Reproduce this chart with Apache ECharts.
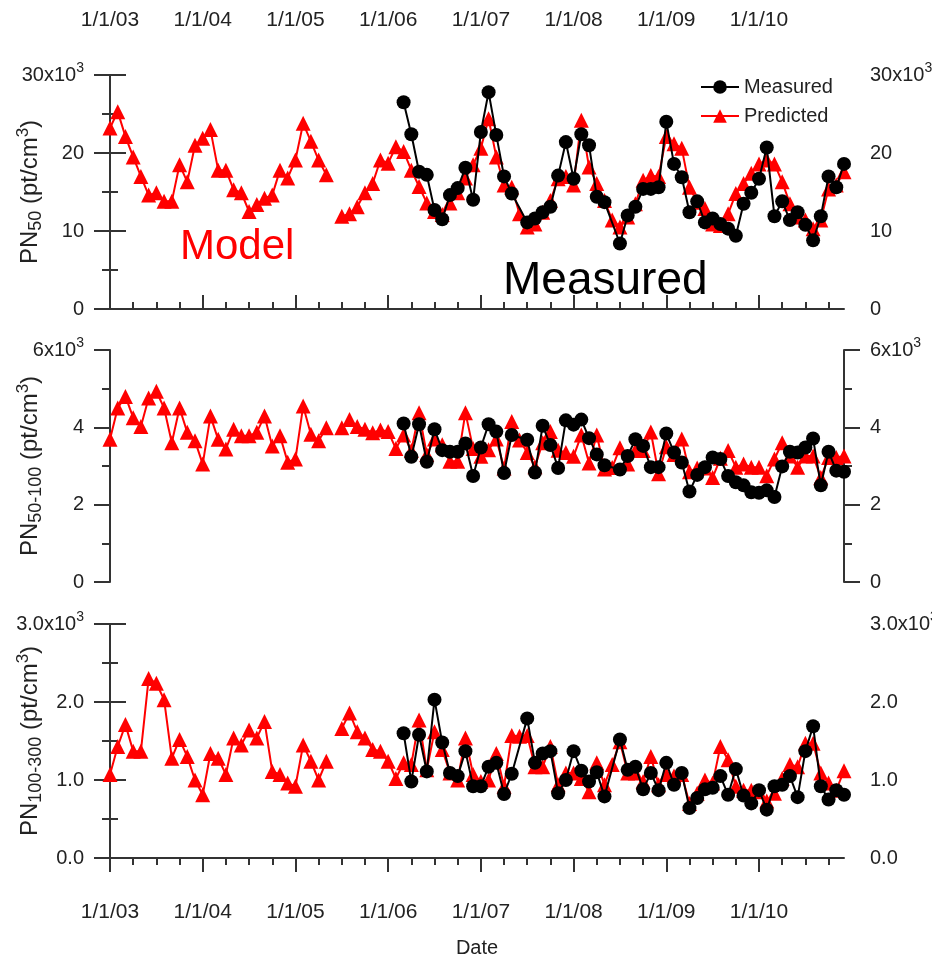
<!DOCTYPE html>
<html>
<head>
<meta charset="utf-8">
<script src="https://cdn.jsdelivr.net/npm/echarts@6/dist/echarts.min.js"></script>
<style>html,body{margin:0;padding:0;background:#fff}#chart{width:932px;height:960px}</style>
</head>
<body>
<div id="chart"></div>
<script>
// Month index 0 = 1 Jan 2003; one point per month.
const predictedStartMonth = 0;   // Jan 2003
const measuredStartMonth = 38;   // Mar 2006
const xMaxMonth = 95;            // Dec 2010
const xTickLabels = ['1/1/03', '1/1/04', '1/1/05', '1/1/06', '1/1/07', '1/1/08', '1/1/09', '1/1/10'];

// PN50 (pt/cm3)
const predictedPN50 = [
  23200, 25300, 22100, 19500, 17000, 14600, 14900, 13800, 13800, 18500, 16300, 21000, 21900, 23000, 17800,
  17800, 15300, 14900, 12500, 13400, 14200, 14600, 17800, 16800, 19100, 23800, 21500, 19100, 17200, null,
  11900, 12200, 13100, 14900, 16100, 19100, 18700, 20800, 20200, 17800,
  15700, 13600, 12500, 12100, 13600, 14900, 16800, 18500, 20600, 24400,
  19500, 15900, 15600, 12200, 10500, 10900, 12400, 13900, 16700, 17000,
  15900, 24200, 18200, 16100, 13900, 11400, 10500, 11800, 13500, 16500,
  17100, 17000, 22100, 21200, 20600, 15600, 13700, 12900, 10900, 10700,
  12200, 14800, 16100, 17400, 18600, 19100, 18600, 16300, 13500, 11800,
  11400, 10300, 11400, 15400, 15900, 17600
];
const measuredPN50 = [
  26500, 22400, 17600, 17200, 12700, 11500, 14600, 15500, 18100, 14000, 22700, 27800, 22300, 17000, 14800, null,
  11100, 11600, 12400, 13100, 17100, 21400, 16700, 22400, 21000, 14400, 13700, null,
  8400, 12000, 13100, 15400, 15400, 15600, 24000, 18600, 16900, 12400, 13800, 11100, 11600, 10900, 10300,
  9400, 13500, 14900, 16700, 20700, 11900, 13800, 11400, 12400, 10800, 8800, 11900, 17000, 15600, 18600
];

// PN50-100 (pt/cm3)
const predictedPN50_100 = [
  3690, 4500, 4800, 4250, 4020, 4760, 4930, 4500, 3600, 4500, 3870, 3650, 3050, 4290, 3690,
  3440, 3950, 3780, 3780, 3870, 4290, 3520, 3780, 3100, 3180, 4550, 3820, 3650, 3990, null,
  3990, 4200, 4020, 3950, 3860, 3930, 3890, 3450, 3800, 3400,
  4380, 3300, 3700, 3550, 3120, 3120, 4380, 3450, 3250, 3420,
  3700, 2950, 4150, 3670, 3350, 2980, 3600, 3890, 3410, 3350,
  3250, 3800, 3080, 3800, 2920, 2960, 3470, 3050, 3400, 3400,
  3880, 2800, 3500, 3300, 3700, 2850, 2950, 2950, 2700, 3200,
  3400, 2970, 3050, 2970, 2970, 2750, 3180, 3600, 3260, 2970,
  3260, 3260, 2700, 3220, 3220, 3260
];
const measuredPN50_100 = [
  4100, 3240, 4080, 3110, 3950, 3410, 3370, 3370, 3580, 2740, 3480, 4080, 3890, 2820, 3800, null,
  3680, 2830, 4040, 3540, 2950, 4180, 4070, 4200, 3720, 3300, 3020, null,
  2910, 3260, 3690, 3520, 2970, 2970, 3840, 3350, 3090, 2340, 2770, 2970, 3220, 3180, 2740,
  2580, 2500, 2320, 2310, 2370, 2200, 2990, 3370, 3350, 3480, 3710, 2500, 3370, 2880, 2850
];

// PN100-300 (pt/cm3)
const predictedPN100_300 = [
  1070, 1430, 1710, 1370, 1370, 2300, 2240, 2030, 1280, 1520, 1300, 1000, 810, 1340, 1280,
  1070, 1540, 1450, 1640, 1540, 1750, 1110, 1070, 960, 920, 1450, 1240, 1000, 1240, null,
  1660, 1860, 1620, 1540, 1390, 1370, 1240, 1020, 1220, 1200,
  1770, 1130, 1620, 1390, 1090, 1000, 1540, 1070, 980, 1000,
  1340, 920, 1570, 1560, 1570, 1170, 1170, 1430, 940, 1090,
  1090, 1020, 850, 1220, 940, 1200, 1490, 1090, 1090, 980,
  1300, 940, 1070, 1050, 1070, 700, 830, 1000, 960, 1430,
  1260, 920, 870, 870, 850, 730, 830, 1020, 1200, 1170,
  1470, 1470, 1090, 960, 870, 1120
];
const measuredPN100_300 = [
  1600, 980, 1580, 1110, 2030, 1480, 1090, 1050, 1370, 920, 920, 1170, 1220, 820, 1080, null,
  1790, 1220, 1340, 1370, 830, 1000, 1370, 1120, 980, 1100, 790, null,
  1520, 1130, 1170, 880, 1090, 870, 1220, 940, 1090, 640, 770, 880, 900, 1050, 810,
  1140, 800, 700, 870, 620, 920, 940, 1050, 780, 1370, 1690, 920, 750, 870, 810
];

const FONT = "'Liberation Sans', Arial, sans-serif";
const AX = '#333';
const TXT = '#222';

function toPoints(values, startMonth) {
  return values.map((v, i) => [startMonth + i, v]);
}

const majorMonths = xTickLabels.map((_, i) => i * 12);
const minorMonths = [];
for (let m = 3; m < xMaxMonth; m += 3) if (m % 12 !== 0) minorMonths.push(m);

const supRich = {
  sup: { fontSize: 14, fontFamily: FONT, color: TXT, verticalAlign: 'top', lineHeight: 13 }
};

function yPair(gridIndex, max, interval, labelFn, name) {
  const base = {
    gridIndex, type: 'value', min: 0, max, interval,
    axisLine: { show: true, lineStyle: { color: AX, width: 2 } },
    axisTick: { show: true, length: 16, lineStyle: { color: AX, width: 2 } },
    minorTick: { show: true, splitNumber: 2, length: 8, lineStyle: { color: AX, width: 2 } },
    splitLine: { show: false },
    axisLabel: {
      margin: 26, fontSize: 20, fontFamily: FONT, color: TXT, lineHeight: 28,
      formatter: labelFn, rich: supRich
    }
  };
  const left = Object.assign({}, base, {
    position: 'left',
    name, nameLocation: 'middle', nameRotate: 90, nameGap: 65, nameMoveOverlap: false,
    nameTextStyle: {
      fontSize: 24, fontFamily: FONT, color: TXT, lineHeight: 30,
      rich: {
        sub: { fontSize: 18, fontFamily: FONT, color: TXT, verticalAlign: 'bottom', lineHeight: 18 },
        sup: { fontSize: 17, fontFamily: FONT, color: TXT, verticalAlign: 'top', lineHeight: 14 }
      }
    }
  });
  const right = Object.assign({}, base, { position: 'right' });
  return [left, right];
}

function xPair(gridIndex, position, offset, margin) {
  const major = {
    gridIndex, type: 'value', min: 0, max: xMaxMonth, position, offset,
    axisLine: { show: true, lineStyle: { color: AX, width: 2 } },
    axisTick: { show: true, length: 14, customValues: majorMonths, lineStyle: { color: AX, width: 2 } },
    axisLabel: {
      show: true, customValues: majorMonths, margin, fontSize: 21, fontFamily: FONT, color: TXT,
      formatter: v => xTickLabels[Math.round(v / 12)] || ''
    },
    splitLine: { show: false }
  };
  const minor = {
    gridIndex, type: 'value', min: 0, max: xMaxMonth, position, offset,
    axisLine: { show: false },
    axisTick: { show: true, length: 7, customValues: minorMonths, lineStyle: { color: AX, width: 2 } },
    axisLabel: { show: false },
    splitLine: { show: false }
  };
  return [major, minor];
}

const topX = xPair(0, 'top', 29, 15);
const botX = xPair(2, 'bottom', 12, 32);
botX[0].name = 'Date';
botX[0].nameLocation = 'middle';
botX[0].nameGap = 68;
botX[0].nameTextStyle = { fontSize: 20, fontFamily: FONT, color: TXT };

const midX = {
  gridIndex: 1, type: 'value', min: 0, max: xMaxMonth, show: false
};

const yTop = yPair(0, 30000, 10000, v => v === 30000 ? '30x10{sup|3}' : String(v / 1000), 'PN{sub|50} (pt/cm{sup|3})');
const yMid = yPair(1, 6000, 2000, v => v === 6000 ? '6x10{sup|3}' : String(v / 1000), 'PN{sub|50-100} (pt/cm{sup|3})');
const yBot = yPair(2, 3000, 1000, v => v === 3000 ? '3.0x10{sup|3}' : (v / 1000).toFixed(1), 'PN{sub|100-300} (pt/cm{sup|3})');

function predictedSeries(values, xi, yi) {
  return {
    name: 'Predicted', type: 'line', xAxisIndex: xi, yAxisIndex: yi,
    data: toPoints(values, predictedStartMonth), connectNulls: false,
    symbol: 'triangle', symbolSize: 15, z: 2,
    lineStyle: { color: '#ff0000', width: 2 },
    itemStyle: { color: '#ff0000' }
  };
}
function measuredSeries(values, xi, yi) {
  return {
    name: 'Measured', type: 'line', xAxisIndex: xi, yAxisIndex: yi,
    data: toPoints(values, measuredStartMonth), connectNulls: true,
    symbol: 'circle', symbolSize: 14, z: 3,
    lineStyle: { color: '#000000', width: 2 },
    itemStyle: { color: '#000000' }
  };
}

const gridBase = { left: 110, width: 734, containLabel: false, outerBoundsMode: 'none' };
const option = {
  animation: false,
  backgroundColor: '#ffffff',
  grid: [
    Object.assign({ top: 75, height: 234 }, gridBase),
    Object.assign({ top: 350, height: 232 }, gridBase),
    Object.assign({ top: 624, height: 234 }, gridBase)
  ],
  xAxis: [topX[0], topX[1], midX, botX[0], botX[1]],
  yAxis: [yTop[0], yTop[1], yMid[0], yMid[1], yBot[0], yBot[1]],
  legend: {
    data: ['Measured', 'Predicted'], orient: 'vertical', left: 695, top: 71,
    itemWidth: 38, itemHeight: 17, itemGap: 7,
    textStyle: { fontSize: 20, fontFamily: FONT, color: TXT, lineHeight: 22 }
  },
  graphic: [
    { type: 'text', left: 180, top: 226, style: { text: 'Model', font: '42px ' + FONT, fill: '#ff0000' } },
    { type: 'text', left: 503, top: 258, style: { text: 'Measured', font: '46px ' + FONT, fill: '#000000' } }
  ],
  series: [
    predictedSeries(predictedPN50, 0, 0),
    measuredSeries(measuredPN50, 0, 0),
    predictedSeries(predictedPN50_100, 2, 2),
    measuredSeries(measuredPN50_100, 2, 2),
    predictedSeries(predictedPN100_300, 3, 4),
    measuredSeries(measuredPN100_300, 3, 4)
  ]
};

const chart = echarts.init(document.getElementById('chart'), null, { renderer: 'canvas' });
chart.setOption(option);
</script>
</body>
</html>
